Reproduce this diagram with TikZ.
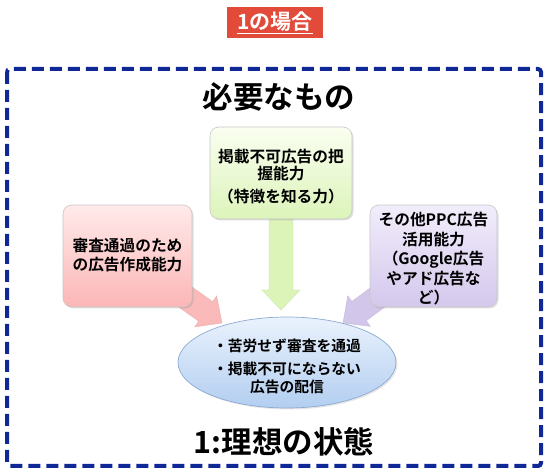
\documentclass[tikz,border=0pt]{standalone}
\usepackage{fontspec}
\setmainfont{Noto Sans CJK JP}[BoldFont={Noto Sans CJK JP Bold}]
\usetikzlibrary{calc,shapes.geometric,shadows}
\pgfdeclarelayer{bg}
\pgfsetlayers{bg,main}
\definecolor{labelred}{RGB}{226,74,58}
\definecolor{framecol}{RGB}{16,40,150}
\definecolor{redtop}{RGB}{255,234,234}
\definecolor{redbot}{RGB}{252,182,182}
\definecolor{greentop}{RGB}{250,254,240}
\definecolor{greenbot}{RGB}{220,244,186}
\definecolor{purtop}{RGB}{242,237,251}
\definecolor{purbot}{RGB}{212,200,236}
\definecolor{elltop}{RGB}{234,242,253}
\definecolor{ellbot}{RGB}{178,206,240}
\definecolor{ellborder}{RGB}{140,170,210}
\definecolor{redarr}{RGB}{250,186,186}
\definecolor{greenarr}{RGB}{220,244,184}
\definecolor{purarr}{RGB}{210,198,234}
\newcommand\fatarr[3]{%
  \coordinate (fa-h) at ($(#2)!20pt!(#1)$);
  \filldraw[#3] ($(#1)!12pt!90:(#2)$) -- ($(fa-h)!12pt!90:(#2)$) -- ($(fa-h)!19pt!90:(#2)$)
    -- (#2) -- ($(fa-h)!19pt!-90:(#2)$) -- ($(fa-h)!12pt!-90:(#2)$) -- ($(#1)!12pt!-90:(#2)$) -- cycle;}
\begin{document}
\begin{tikzpicture}[x=1pt,y=-1pt,
  box/.style={rectangle, rounded corners=9pt, draw=gray!45, line width=0.6pt,
    drop shadow={opacity=0.25, shadow xshift=1.5pt, shadow yshift=-1.5pt}},
  boxtext/.style={align=center, font=\bfseries\fontsize{15.7}{19.5}\selectfont},
  title/.style={font=\bfseries\fontsize{30.5}{35}\selectfont},
  frame/.style={draw=framecol, line width=4pt, dash pattern=on 12pt off 6pt, rounded corners=3pt}]
\useasboundingbox (0,0) rectangle (550,476);
% label
\node[fill=labelred, minimum width=96pt, minimum height=31pt, inner sep=0pt,
  text=white, font=\bfseries\fontsize{21}{24}\selectfont] (lab) at (275,23) {\underline{1の場合}};
% frame
\draw[frame] (7,69) rectangle (541,466);
% titles
\node[title] (t1) at (279,97) {必要なもの};
\node[title] (t2) at (284,442) {1:理想の状態};
% boxes
\node[box, top color=greentop, bottom color=greenbot, minimum width=142pt, minimum height=92pt] (gb) at (281,173) {};
\node[boxtext, font=\bfseries\fontsize{15.7}{16.5}\selectfont] (gbt) at (281,177) {掲載不可広告の把\\握能力\\[7pt]（特徴を知る力）};
\node[box, top color=redtop, bottom color=redbot, minimum width=129pt, minimum height=102pt] (rb) at (127.5,256) {};
\node[boxtext] (rbt) at (127.5,255) {審査通過のため\\の広告作成能力};
\node[box, top color=purtop, bottom color=purbot, minimum width=127pt, minimum height=102pt] (pb) at (433.5,256) {};
\node[boxtext] (pbt) at (433.5,259) {その他PPC広告\\活用能力\\（Google広告\\やアド広告な\\ど）};
% ellipse
\node[ellipse, draw=ellborder, line width=0.7pt, top color=elltop, bottom color=ellbot,
  minimum width=218pt, minimum height=91pt,
  drop shadow={opacity=0.2, shadow xshift=1.5pt, shadow yshift=-1.5pt}] (ell) at (287,362.5) {};
\node[align=center, font=\bfseries\fontsize{14.8}{17.5}\selectfont] (ellt) at (287,366) {・苦労せず審査を通過\\[6pt]・掲載不可にならない\\広告の配信};
% arrows
\coordinate (rtip) at (222,323);
\coordinate (gtip) at (281,310);
\coordinate (ptip) at (343,323);
\begin{pgfonlayer}{bg}
\fatarr{rb.center}{rtip}{fill=redarr, draw=redarr!85!gray, line width=0.4pt}
\fatarr{gb.center}{gtip}{fill=greenarr, draw=greenarr!85!gray, line width=0.4pt}
\fatarr{pb.center}{ptip}{fill=purarr, draw=purarr!85!gray, line width=0.4pt}
\end{pgfonlayer}
\end{tikzpicture}
\end{document}
